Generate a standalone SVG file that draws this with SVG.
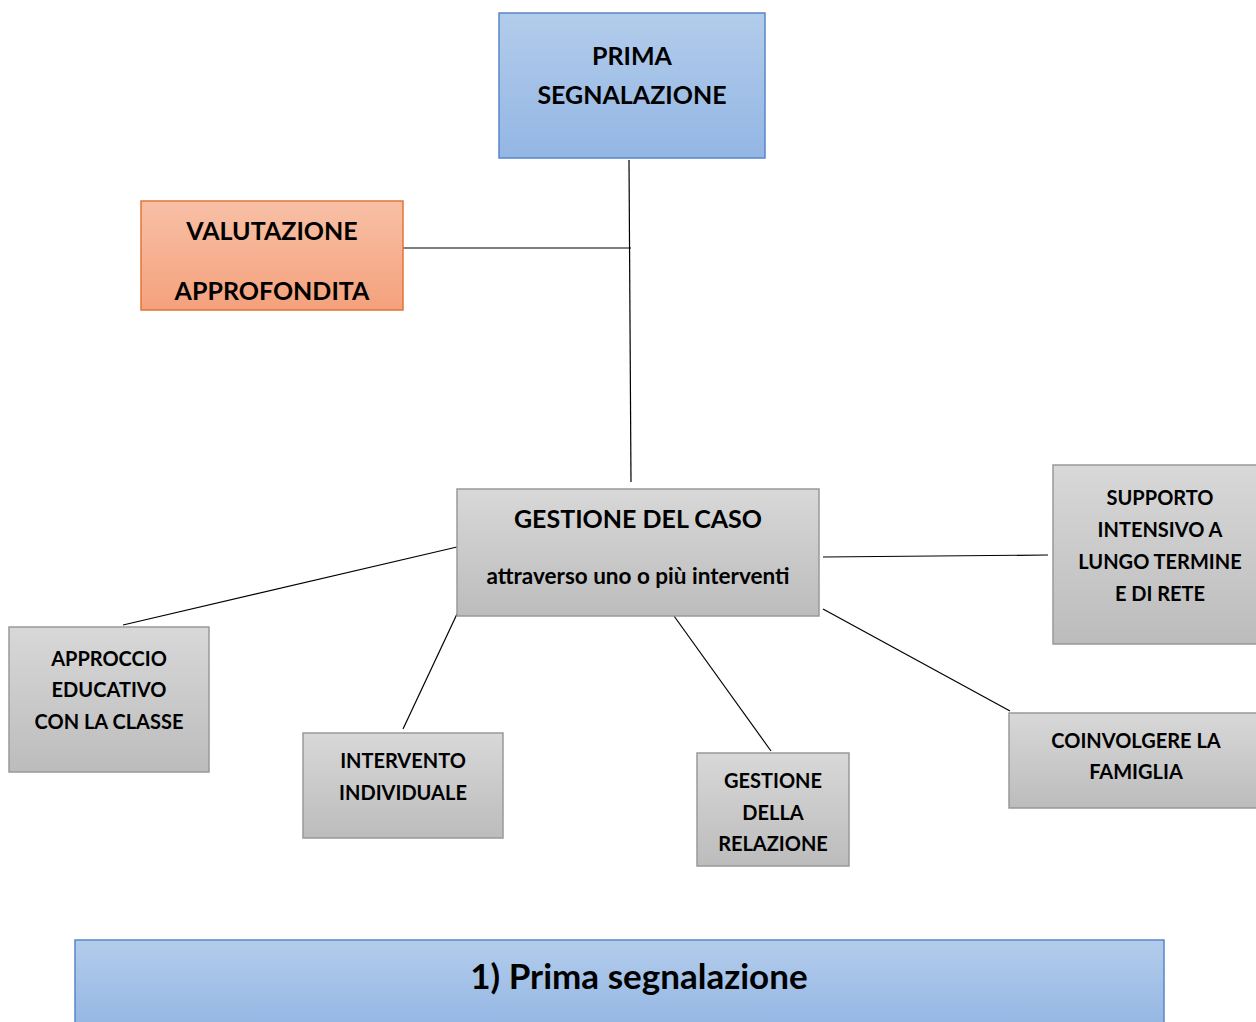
<svg xmlns="http://www.w3.org/2000/svg" width="1256" height="1022" viewBox="0 0 1256 1022">
<defs>
<linearGradient id="gBlue" x1="0" y1="0" x2="0" y2="1"><stop offset="0" stop-color="#b3cceb"/><stop offset="1" stop-color="#93b6e4"/></linearGradient>
<linearGradient id="gOrange" x1="0" y1="0" x2="0" y2="1"><stop offset="0" stop-color="#f8c0a6"/><stop offset="1" stop-color="#f4a17c"/></linearGradient>
<linearGradient id="gGray" x1="0" y1="0" x2="0" y2="1"><stop offset="0" stop-color="#d8d8d8"/><stop offset="1" stop-color="#bcbcbc"/></linearGradient>
</defs>
<style>
text{font-family:Lato,"Open Sans","Liberation Sans",sans-serif;font-weight:bold;fill:#000;text-anchor:middle;dominant-baseline:central}
.blue{fill:url(#gBlue);stroke:#5a86c8;stroke-width:1.5}
.orange{fill:url(#gOrange);stroke:#e0753a;stroke-width:1.5}
.gray{fill:url(#gGray);stroke:#999;stroke-width:1.5}
.conn line{stroke:#000;stroke-width:1.2}
.big{font-size:25px}
.mid{font-size:20px}
</style>
<rect width="1256" height="1022" fill="#fff"/>
<g class="conn" id="connectors">
<line x1="629" y1="160" x2="631" y2="482"/>
<line x1="403" y1="248" x2="631" y2="248"/>
<line x1="457" y1="547" x2="123" y2="625"/>
<line x1="457" y1="614" x2="403" y2="729"/>
<line x1="674" y1="616" x2="771" y2="751"/>
<line x1="823" y1="557" x2="1048" y2="555"/>
<line x1="823" y1="609" x2="1010" y2="711"/>
</g>
<g id="prima">
<rect class="blue" x="499" y="13" width="266" height="145"/>
<text class="big" x="632" y="55">PRIMA</text>
<text class="big" x="632" y="94">SEGNALAZIONE</text>
</g>
<g id="valutazione">
<rect class="orange" x="141" y="201" width="262" height="109"/>
<text class="big" x="272" y="230">VALUTAZIONE</text>
<text class="big" x="272" y="290">APPROFONDITA</text>
</g>
<g id="gestione">
<rect class="gray" x="457" y="489" width="362" height="127"/>
<text class="big" x="638" y="518">GESTIONE DEL CASO</text>
<text x="638" y="575" style="font-size:22.5px">attraverso uno o più interventi</text>
</g>
<g id="supporto">
<rect class="gray" x="1053" y="465" width="210" height="179"/>
<text class="mid" x="1160" y="497">SUPPORTO</text>
<text class="mid" x="1160" y="529">INTENSIVO A</text>
<text class="mid" x="1160" y="561">LUNGO TERMINE</text>
<text class="mid" x="1160" y="593">E DI RETE</text>
</g>
<g id="approccio">
<rect class="gray" x="9" y="627" width="200" height="145"/>
<text class="mid" x="109" y="658">APPROCCIO</text>
<text class="mid" x="109" y="689">EDUCATIVO</text>
<text class="mid" x="109" y="721">CON LA CLASSE</text>
</g>
<g id="intervento">
<rect class="gray" x="303" y="733" width="200" height="105"/>
<text class="mid" x="403" y="760">INTERVENTO</text>
<text class="mid" x="403" y="792">INDIVIDUALE</text>
</g>
<g id="relazione">
<rect class="gray" x="697" y="753" width="152" height="113"/>
<text class="mid" x="773" y="780">GESTIONE</text>
<text class="mid" x="773" y="812">DELLA</text>
<text class="mid" x="773" y="843">RELAZIONE</text>
</g>
<g id="famiglia">
<rect class="gray" x="1009" y="713" width="254" height="95"/>
<text class="mid" x="1136" y="740">COINVOLGERE LA</text>
<text class="mid" x="1136" y="771">FAMIGLIA</text>
</g>
<g id="banner">
<rect class="blue" x="75" y="940" width="1089" height="90"/>
<text x="639" y="975" style="font-size:35px">1) Prima segnalazione</text>
</g>
</svg>
